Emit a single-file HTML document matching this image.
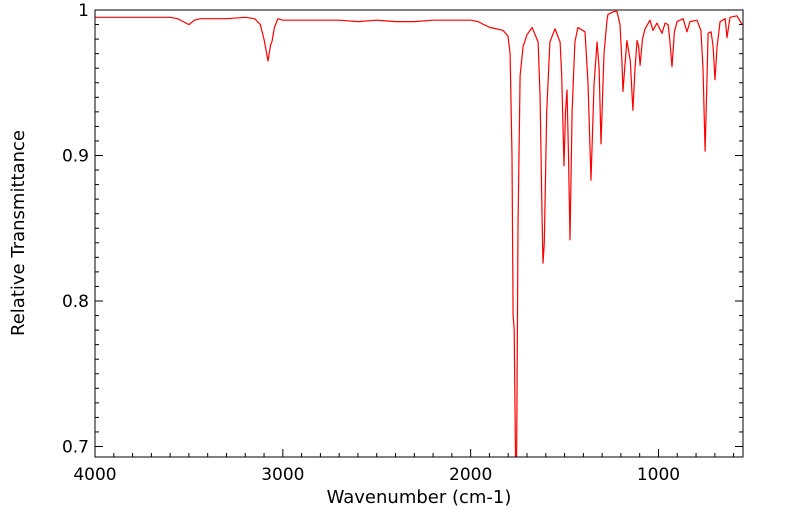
<!DOCTYPE html>
<html><head><meta charset="utf-8"><style>
body{margin:0;background:#fff;width:799px;height:516px;overflow:hidden}
svg text{font-family:"DejaVu Sans","Liberation Sans",sans-serif;fill:#000}
</style></head><body>
<svg id="chart" width="799" height="516" xmlns="http://www.w3.org/2000/svg">
<defs><clipPath id="pc"><rect x="95" y="10" width="648" height="447"/></clipPath></defs>
<g id="ticks"></g>
<g id="labels"></g>
<polyline id="series" clip-path="url(#pc)" fill="none" stroke="#ff0000" stroke-width="1.2" stroke-linejoin="round"/>
<rect x="95" y="10" width="648" height="447" fill="none" stroke="#000" stroke-width="1"/>
<text x="419" y="503" font-size="18" text-anchor="middle">Wavenumber (cm-1)</text>
<text x="0" y="0" font-size="18" text-anchor="middle" transform="translate(24,233) rotate(-90)">Relative Transmittance</text>
</svg>
<script>
const wavenumbers=[4000,3900,3800,3700,3600,3560,3530,3500,3470,3440,3400,3300,3200,3150,3120,3100,3079,3065,3058,3045,3026,3000,2900,2800,2700,2600,2500,2400,2300,2200,2100,2000,1960,1930,1897,1860,1828,1801,1790,1780,1774,1768,1762,1759,1755,1748,1737,1721,1700,1673,1641,1630,1620,1615,1608,1595,1578,1551,1524,1515,1503,1495,1487,1479,1471,1460,1445,1429,1391,1375,1359,1343,1327,1316,1306,1290,1274,1269,1237,1221,1205,1195,1189,1180,1168,1150,1136,1125,1114,1106,1098,1085,1072,1045,1029,1008,981,965,949,940,928,915,901,869,848,832,795,774,763,752,742,736,720,709,699,688,672,645,635,619,582,555];
const transmittance=[0.995,0.995,0.995,0.995,0.995,0.994,0.992,0.990,0.993,0.994,0.994,0.994,0.995,0.994,0.990,0.980,0.965,0.976,0.978,0.988,0.994,0.993,0.993,0.993,0.993,0.992,0.993,0.992,0.992,0.993,0.993,0.993,0.992,0.990,0.988,0.987,0.986,0.982,0.97,0.90,0.79,0.78,0.70,0.66,0.70,0.85,0.955,0.975,0.983,0.988,0.978,0.94,0.86,0.826,0.84,0.93,0.978,0.987,0.978,0.955,0.893,0.93,0.945,0.90,0.842,0.93,0.978,0.988,0.985,0.95,0.883,0.95,0.978,0.96,0.908,0.97,0.993,0.997,0.999,0.999,0.990,0.965,0.944,0.96,0.979,0.965,0.931,0.96,0.979,0.975,0.962,0.98,0.987,0.993,0.986,0.991,0.984,0.991,0.990,0.980,0.961,0.985,0.992,0.994,0.985,0.992,0.993,0.986,0.96,0.903,0.95,0.984,0.985,0.975,0.952,0.975,0.992,0.994,0.981,0.995,0.996,0.990];
const xTickLabels=[4000,3000,2000,1000];
const yTickLabels=[0.7,0.8,0.9,1];
const X=w=>95+(4000-w)*648/3450;
const Y=t=>10+(1-t)*1455;
const NS='http://www.w3.org/2000/svg';
const tg=document.getElementById('ticks'),lg=document.getElementById('labels');
function line(x1,y1,x2,y2){const l=document.createElementNS(NS,'line');l.setAttribute('x1',x1);l.setAttribute('y1',y1);l.setAttribute('x2',x2);l.setAttribute('y2',y2);l.setAttribute('stroke','#000');


tg.appendChild(l);}
for(let w=4000;w>=600;w-=100){const x=X(w),len=(w%1000===0)?8:4;line(x,457,x,457-len);}
for(let i=0;i<=30;i++){const t=0.7+i*0.01,y=Y(t);if(y<10||y>457)continue;const len=(i%10===0)?8:4;line(95,y,95+len,y);line(743,y,743-len,y);}
xTickLabels.forEach(v=>{const t=document.createElementNS(NS,'text');t.setAttribute('x',X(v));t.setAttribute('y',480);t.setAttribute('font-size','17');t.setAttribute('text-anchor','middle');t.textContent=v;


lg.appendChild(t);});
yTickLabels.forEach(v=>{const t=document.createElementNS(NS,'text');t.setAttribute('x',89);t.setAttribute('y',Y(v)+6);t.setAttribute('font-size','17');t.setAttribute('text-anchor','end');t.textContent=String(v);


lg.appendChild(t);});
document.getElementById('series').setAttribute('points',wavenumbers.map((w,i)=>X(w).toFixed(1)+','+Y(transmittance[i]).toFixed(1)).join(' '));
</script>
</body></html>
